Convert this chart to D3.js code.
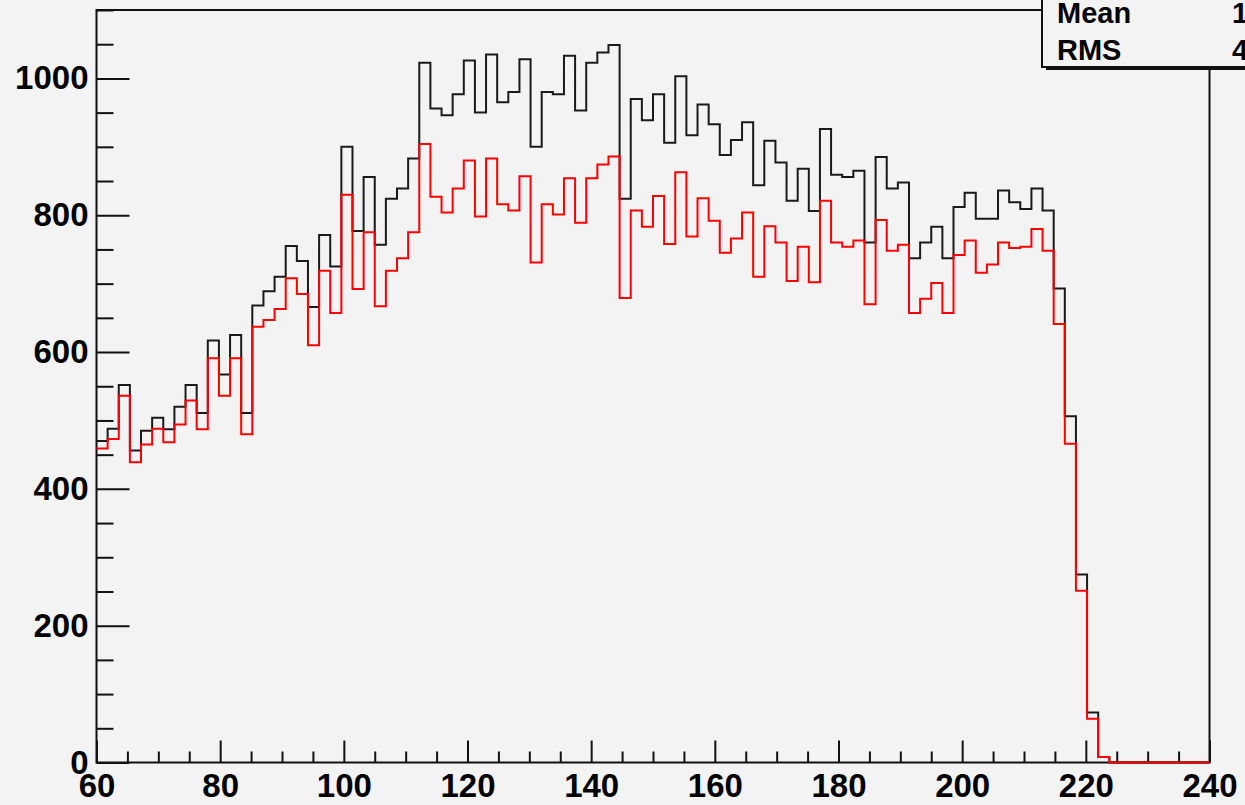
<!DOCTYPE html>
<html>
<head>
<meta charset="utf-8">
<script src="https://cdn.jsdelivr.net/npm/d3@7"></script>
<style>
    html, body { margin: 0; padding: 0; background: #f3f3f3; }
    svg { display: block; }
    .axis text, .stats text {
        font-family: "Liberation Sans", Arial, sans-serif;
        font-weight: bold;
        fill: #000;
    }
</style>
</head>
<body>
<svg id="hist" width="1245" height="805"></svg>
<script>
// histogram binning: 100 bins between 60 and 240
var xMin = 60, xMax = 240, nBins = 100;

var blackCounts = [
    470, 488, 552, 456, 485, 504, 487, 520, 552, 511,
    617, 567, 625, 511, 668, 689, 710, 755, 733, 666,
    771, 725, 900, 777, 856, 757, 824, 839, 883, 1023,
    956, 946, 977, 1026, 950, 1035, 965, 980, 1028, 900,
    980, 977, 1033, 953, 1023, 1038, 1049, 824, 970, 939,
    977, 906, 1003, 917, 962, 933, 888, 910, 936, 844,
    909, 877, 821, 868, 806, 926, 859, 856, 865, 760,
    885, 839, 848, 737, 760, 783, 737, 812, 833, 795,
    795, 836, 819, 809, 839, 807, 693, 506, 275, 73,
    8, 0, 0, 0, 0, 0, 0, 0, 0, 0
];

var redCounts = [
    459, 473, 536, 439, 465, 488, 468, 494, 529, 487,
    591, 536, 591, 480, 637, 647, 663, 708, 685, 610,
    719, 657, 830, 692, 775, 667, 719, 737, 775, 904,
    827, 804, 839, 880, 798, 883, 816, 807, 857, 731,
    816, 801, 854, 789, 854, 874, 886, 679, 807, 783,
    828, 758, 863, 769, 825, 792, 745, 766, 804, 710,
    784, 760, 704, 754, 702, 821, 760, 754, 763, 670,
    793, 748, 757, 657, 678, 701, 657, 742, 763, 716,
    728, 760, 752, 754, 780, 748, 641, 466, 251, 64,
    8, 0, 0, 0, 0, 0, 0, 0, 0, 0
];

var xTickLabels = [60, 80, 100, 120, 140, 160, 180, 200, 220, 240];
var yTickLabels = [0, 200, 400, 600, 800, 1000];
var statNames = ['Mean', 'RMS'];
var statValues = ['145.3', '42.71'];

var svg = d3.select('#hist');

var x = d3.scaleLinear().domain([xMin, xMax]).range([96.5, 1209.5]),
    y = d3.scaleLinear().domain([0, 1100]).range([762.5, 10]);

var binWidth = (xMax - xMin) / nBins;

// step outline of a histogram, one flat segment per bin
var outline = function(counts) {
    var pts = [];
    counts.forEach(function(v, i) {
        pts.push([xMin + i * binWidth, v]);
        pts.push([xMin + (i + 1) * binWidth, v]);
    });
    return pts;
};

var line = d3.line()
    .x(function(d) { return x(d[0]); })
    .y(function(d) { return y(d[1]); });

// frame
svg.append('rect')
    .attr('x', x(xMin))
    .attr('y', y(1100))
    .attr('width', x(xMax) - x(xMin))
    .attr('height', y(0) - y(1100))
    .attr('fill', 'none')
    .attr('stroke', '#111')
    .attr('stroke-width', 2);

var styleAxis = function(g) {
    g.select('.domain').remove();
    g.selectAll('line').attr('stroke', '#111').attr('stroke-width', 2);
    g.selectAll('text').style('font-size', '33px');
};

// y axis: major every 200, minor every 50, ticks pointing inside
var yMinor = d3.range(0, 1101, 50).filter(function(v) { return v % 200 !== 0; });

svg.append('g')
    .attr('class', 'axis')
    .attr('transform', 'translate(' + x(xMin) + ',0)')
    .call(d3.axisLeft(y).tickValues(yMinor).tickSize(-17).tickFormat(''))
    .call(styleAxis);

svg.append('g')
    .attr('class', 'axis')
    .attr('transform', 'translate(' + x(xMin) + ',0)')
    .call(d3.axisLeft(y).tickValues(yTickLabels).tickSize(-33).tickSizeOuter(0).tickPadding(8).tickFormat(d3.format('d')))
    .call(styleAxis);

// x axis: major every 20, minor every 5
var xMinor = d3.range(xMin, xMax + 1, 5).filter(function(v) { return v % 20 !== 0; });

svg.append('g')
    .attr('class', 'axis')
    .attr('transform', 'translate(0,' + y(0) + ')')
    .call(d3.axisBottom(x).tickValues(xMinor).tickSize(-11).tickFormat(''))
    .call(styleAxis);

svg.append('g')
    .attr('class', 'axis')
    .attr('transform', 'translate(0,' + y(0) + ')')
    .call(d3.axisBottom(x).tickValues(xTickLabels).tickSize(-22).tickSizeOuter(0).tickPadding(11).tickFormat(d3.format('d')))
    .call(styleAxis);

// histograms drawn over the frame, red on top
svg.append('path')
    .attr('d', line(outline(blackCounts)))
    .attr('fill', 'none')
    .attr('stroke', '#1a1a1a')
    .attr('stroke-width', 2);

svg.append('path')
    .attr('d', line(outline(redCounts)))
    .attr('fill', 'none')
    .attr('stroke', '#ff0000')
    .attr('stroke-width', 2);

// stats box, cut off by the top right corner
var stats = svg.append('g').attr('class', 'stats');

stats.append('rect')
    .attr('x', 1046).attr('y', -6)
    .attr('width', 300).attr('height', 76)
    .attr('fill', '#111');

stats.append('rect')
    .attr('x', 1042).attr('y', -10)
    .attr('width', 300).attr('height', 77)
    .attr('fill', '#f3f3f3')
    .attr('stroke', '#111')
    .attr('stroke-width', 2);

stats.selectAll('text.name')
    .data(statNames)
    .enter()
    .append('text')
    .attr('class', 'name')
    .attr('x', 1057)
    .attr('y', function(d, i) { return 23 + i * 37; })
    .style('font-size', '29px')
    .text(function(d) { return d; });

stats.selectAll('text.value')
    .data(statValues)
    .enter()
    .append('text')
    .attr('class', 'value')
    .attr('x', 1232)
    .attr('y', function(d, i) { return 23 + i * 37; })
    .style('font-size', '29px')
    .text(function(d) { return d; });
</script>
</body>
</html>
